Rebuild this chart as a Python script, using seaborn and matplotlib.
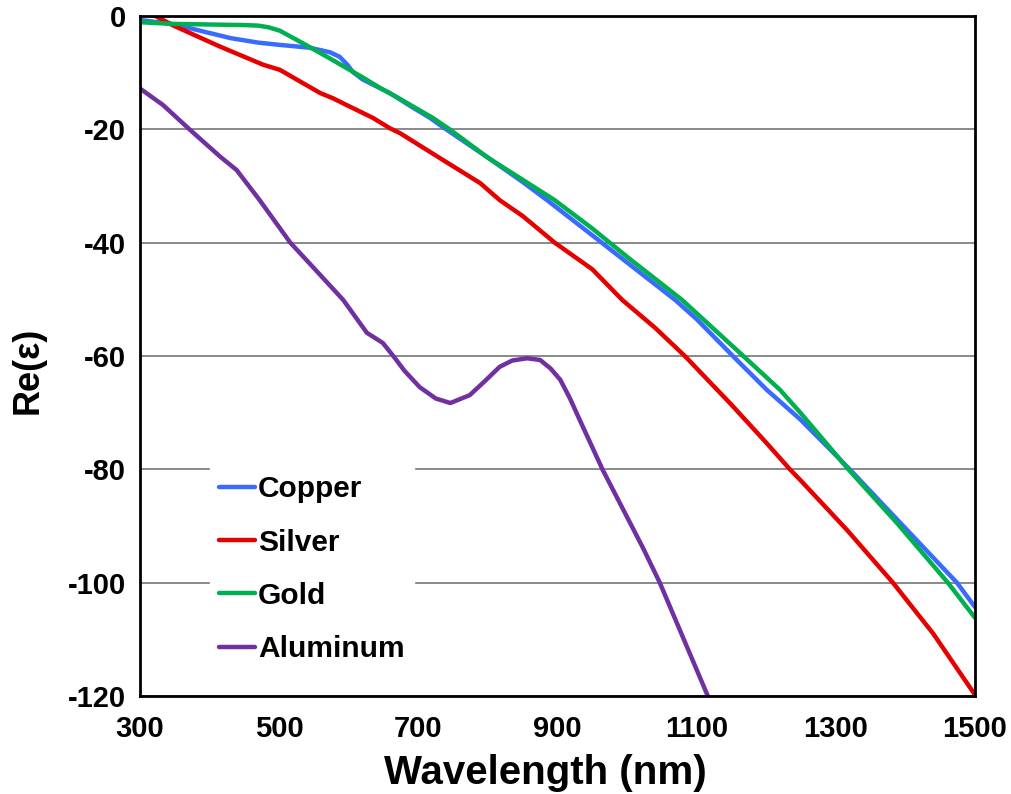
import numpy as np
import pandas as pd
import matplotlib
matplotlib.use("Agg")
import matplotlib.pyplot as plt
import seaborn as sns

# Real part of the dielectric function of common plasmonic metals
copper_wl = [300, 350, 400, 430, 470, 501, 544, 573, 587, 598, 606, 620, 641, 659, 690,
             717, 734, 800, 850, 885, 950, 1000, 1069, 1100, 1152, 1201, 1249, 1320,
             1370, 1420, 1474, 1500]
copper_eps = [-0.7, -1.5, -3.0, -3.9, -4.7, -5.1, -5.6, -6.4, -7.2, -8.6, -9.9, -11.2,
              -12.5, -13.6, -16.0, -18.0, -19.5, -25.0, -29.3, -32.5, -38.7, -43.5,
              -50.1, -53.5, -60.0, -66.0, -71.2, -80.0, -86.5, -93.0, -100.0, -104.3]

silver_wl = [322, 350, 415, 477, 501, 559, 577, 600, 635, 659, 674, 730, 789, 817,
             850, 896, 950, 993, 1040, 1083, 1150, 1200, 1234, 1249, 1316, 1382,
             1440, 1500]
silver_eps = [0.0, -1.8, -5.4, -8.6, -9.5, -13.6, -14.5, -15.9, -18.0, -19.8, -20.7,
              -25.0, -29.5, -32.5, -35.3, -40.0, -44.7, -50.1, -55.0, -60.0, -68.6,
              -75.3, -80.0, -81.9, -90.7, -100.0, -109.0, -119.8]

gold_wl = [300, 350, 400, 450, 470, 485, 501, 525, 544, 573, 621, 645, 669, 721,
           745, 800, 896, 950, 1000, 1079, 1167, 1220, 1249, 1318, 1388, 1461, 1500]
gold_eps = [-1.1, -1.4, -1.5, -1.6, -1.7, -2.0, -2.6, -4.2, -5.5, -7.5, -10.9, -12.7,
            -14.3, -18.0, -20.0, -25.0, -32.5, -37.5, -42.5, -50.1, -60.0, -66.0,
            -70.0, -80.0, -89.5, -100.0, -106.2]

aluminum_wl = [300, 333, 372, 415, 439, 472, 516, 550, 592, 626, 649, 664, 680, 702,
               725, 746, 774, 795, 817, 835, 856, 875, 890, 904, 918, 932, 965, 1023,
               1047, 1116]
aluminum_eps = [-12.8, -15.7, -20.1, -24.8, -27.2, -32.5, -40.0, -44.5, -50.1, -55.9,
                -57.7, -60.0, -62.6, -65.5, -67.5, -68.3, -66.9, -64.5, -61.9, -60.8,
                -60.4, -60.7, -62.2, -64.2, -67.5, -71.3, -80.1, -93.9, -100.0, -120.0]

metals = ["Copper", "Silver", "Gold", "Aluminum"]
colors = {"Copper": "#3A6BFF", "Silver": "#E60000",
          "Gold": "#00B050", "Aluminum": "#7030A0"}

frames = []
for name, wl, eps in [("Copper", copper_wl, copper_eps),
                      ("Silver", silver_wl, silver_eps),
                      ("Gold", gold_wl, gold_eps),
                      ("Aluminum", aluminum_wl, aluminum_eps)]:
    frames.append(pd.DataFrame({"Wavelength": wl, "ReEps": eps, "Metal": name}))
df = pd.concat(frames, ignore_index=True)

sns.set_style("white")
plt.rcParams["font.family"] = ["Liberation Sans", "DejaVu Sans"]
plt.rcParams["font.weight"] = "bold"
plt.rcParams["axes.unicode_minus"] = False
plt.rcParams["text.color"] = "black"
plt.rcParams["axes.labelcolor"] = "black"
plt.rcParams["xtick.color"] = "black"
plt.rcParams["ytick.color"] = "black"

fig = plt.figure(figsize=(10.11, 7.94), dpi=100)
ax = fig.add_axes([140 / 1011, 1 - 696 / 794, 835 / 1011, 680 / 794])

sns.lineplot(data=df, x="Wavelength", y="ReEps", hue="Metal", hue_order=metals,
             palette=colors, linewidth=3.2, sort=False, ax=ax, legend=True)
for line in ax.get_lines():
    line.set_solid_joinstyle("round")
    line.set_solid_capstyle("round")

ax.set_xlim(300, 1500)
ax.set_ylim(-120, 0)
ax.set_xticks(np.arange(300, 1501, 200))
ax.set_yticks(np.arange(-120, 1, 20))
ax.yaxis.grid(True, color="#808080", linewidth=1.3)
ax.xaxis.grid(False)
ax.set_axisbelow(True)

for s in ax.spines.values():
    s.set_visible(True)
    s.set_color("black")
    s.set_linewidth(2.0)

ax.tick_params(axis="both", which="major", direction="out", colors="black",
               labelsize=21, width=1.5, length=7)
ax.tick_params(axis="y", pad=3)
ax.tick_params(axis="x", pad=7)
for lbl in ax.get_xticklabels() + ax.get_yticklabels():
    lbl.set_fontweight("bold")

ax.set_xlabel("Wavelength (nm)", fontsize=29, fontweight="bold", color="black")
ax.set_ylabel("Re(ε)", fontsize=26, fontweight="bold", color="black")
ax.xaxis.set_label_coords(0.485, -0.085)
ax.yaxis.set_label_coords(-0.113, 0.479)

leg = ax.legend(loc="upper left", bbox_to_anchor=(0.084, 0.338), frameon=True,
                fancybox=False, framealpha=1.0, facecolor="white", edgecolor="white",
                prop={"size": 21.5, "weight": "bold"}, handlelength=1.2,
                handletextpad=0.1, labelspacing=0.85, borderpad=0.3,
                borderaxespad=0.0)
for line in leg.get_lines():
    line.set_linewidth(3.2)
for t in leg.get_texts():
    t.set_color("black")

fig.savefig("out.png", dpi=100)
